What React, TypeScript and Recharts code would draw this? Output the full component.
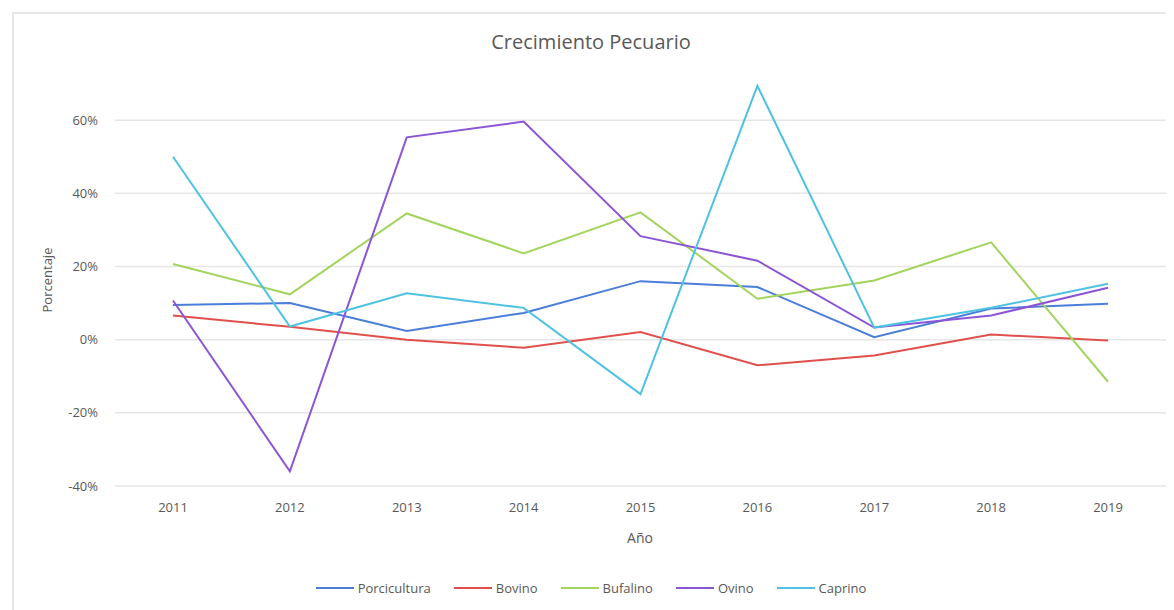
import { CartesianGrid, Legend, Line, LineChart, XAxis, YAxis } from "recharts";

const years = ["2011", "2012", "2013", "2014", "2015", "2016", "2017", "2018", "2019"];
const porcicultura = [0.095, 0.1, 0.024, 0.073, 0.16, 0.144, 0.007, 0.085, 0.098];
const bovino = [0.066, 0.035, 0.0, -0.022, 0.021, -0.07, -0.043, 0.014, -0.002];
const bufalino = [0.207, 0.124, 0.345, 0.236, 0.348, 0.112, 0.162, 0.266, -0.115];
const ovino = [0.107, -0.36, 0.553, 0.596, 0.283, 0.216, 0.033, 0.066, 0.142];
const caprino = [0.5, 0.036, 0.127, 0.087, -0.149, 0.694, 0.033, 0.087, 0.153];
const yTicks = [-0.4, -0.2, 0, 0.2, 0.4, 0.6];

const series = [
  { key: "Porcicultura", values: porcicultura, color: "#4a7ed9" },
  { key: "Bovino", values: bovino, color: "#e0504c" },
  { key: "Bufalino", values: bufalino, color: "#a2d45e" },
  { key: "Ovino", values: ovino, color: "#8b55d6" },
  { key: "Caprino", values: caprino, color: "#4fc2e2" },
];

const data = years.map((year, i) => {
  const row: Record<string, string | number> = { year };
  series.forEach((s) => (row[s.key] = s.values[i]));
  return row;
});

const FONT = "'Open Sans', sans-serif";
const TEXT = "#595959";

function LegendRow() {
  return (
    <div style={{ display: "flex", justifyContent: "center", gap: 23, fontFamily: FONT, fontSize: 13, color: TEXT }}>
      {series.map((s) => (
        <div key={s.key} style={{ display: "flex", alignItems: "center", gap: 4 }}>
          <span style={{ display: "inline-block", width: 38, height: 2, background: s.color }} />
          <span>{s.key}</span>
        </div>
      ))}
    </div>
  );
}

export default function App() {
  return (
    <div style={{ position: "relative", width: 1166, height: 602, background: "#fff", overflow: "hidden" }}>
      <div
        style={{
          position: "absolute",
          left: 4,
          top: 4,
          right: -10,
          bottom: -10,
          borderTop: "2px solid #e6e6e6",
          borderLeft: "2px solid #e6e6e6",
        }}
      />
      <div
        style={{
          position: "absolute",
          top: 20,
          left: 0,
          width: 1166,
          textAlign: "center",
          fontFamily: FONT,
          fontSize: 20,
          color: TEXT,
        }}
      >
        Crecimiento Pecuario
      </div>
      <div
        style={{
          position: "absolute",
          left: 39,
          top: 272,
          transform: "translate(-50%, -50%) rotate(-90deg)",
          fontFamily: FONT,
          fontSize: 13,
          color: TEXT,
          whiteSpace: "nowrap",
        }}
      >
        Porcentaje
      </div>
      <div
        style={{
          position: "absolute",
          left: 632,
          top: 529,
          transform: "translate(-50%, -50%)",
          fontFamily: FONT,
          fontSize: 14,
          color: TEXT,
        }}
      >
        Año
      </div>
      <LineChart
        width={1166}
        height={602}
        data={data}
        margin={{ top: 39, right: 8, bottom: 94, left: 0 }}
        style={{ position: "absolute", left: 0, top: 0 }}
      >
        <CartesianGrid vertical={false} horizontalValues={yTicks} stroke="#e6e6e6" strokeWidth={1.5} />
        <XAxis
          dataKey="year"
          axisLine={false}
          tickLine={false}
          tickSize={0}
          tickMargin={17}
          height={30}
          padding={{ left: 58, right: 58 }}
          tick={{ fontSize: 13, fill: TEXT, fontFamily: FONT }}
        />
        <YAxis
          domain={[-0.4, 0.8]}
          ticks={yTicks}
          width={107}
          axisLine={false}
          tickLine={false}
          tickSize={0}
          tickMargin={17}
          tickFormatter={(v: number) => `${Math.round(v * 100)}%`}
          tick={{ fontSize: 13, fill: TEXT, fontFamily: FONT }}
        />
        <Legend
          layout="horizontal"
          verticalAlign="middle"
          align="center"
          wrapperStyle={{ top: 571, left: 0, width: 1166 }}
          content={() => <LegendRow />}
        />
        {series.map((s) => (
          <Line
            key={s.key}
            dataKey={s.key}
            stroke={s.color}
            strokeWidth={2}
            dot={false}
            activeDot={false}
            isAnimationActive={false}
          />
        ))}
      </LineChart>
    </div>
  );
}
